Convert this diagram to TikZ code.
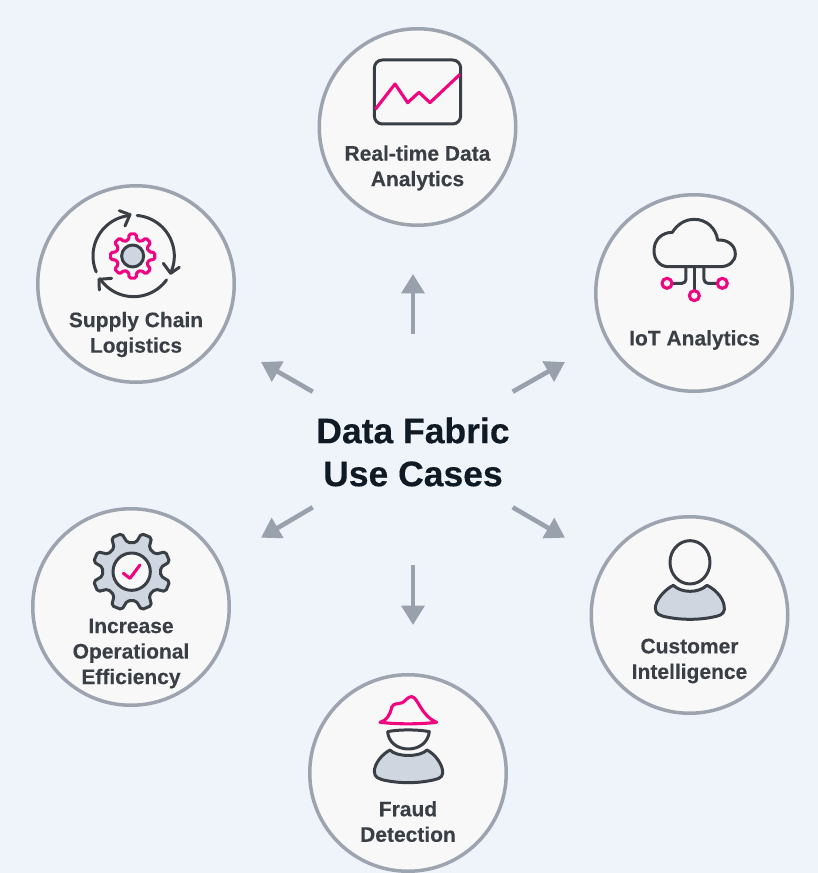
\documentclass[tikz,border=0pt]{standalone}
\usepackage{fontspec}
\setmainfont{Liberation Sans}[BoldFeatures={FakeBold=0.25}]
\usetikzlibrary{arrows.meta}
\definecolor{pagebg}{HTML}{EFF3FA}
\definecolor{discfill}{HTML}{F8F8F9}
\definecolor{discline}{HTML}{9DA3AF}
\definecolor{arrowgray}{HTML}{99A1AD}
\definecolor{labelink}{HTML}{3A3F45}
\definecolor{titleink}{HTML}{0F1A24}
\definecolor{iconpink}{HTML}{F0047F}
\definecolor{icongray}{HTML}{D0D6E0}
\newcommand{\gearpath}[7]{%
  ({#1+#4*cos(#5-#7)},{#2+#4*sin(#5-#7)})
  \foreach \a in {0,45,...,315} {
    -- ({#1+#4*cos(\a+#5-#7)},{#2+#4*sin(\a+#5-#7)})
    -- ({#1+#3*cos(\a+#5-#6)},{#2+#3*sin(\a+#5-#6)})
    -- ({#1+#3*cos(\a+#5+#6)},{#2+#3*sin(\a+#5+#6)})
    -- ({#1+#4*cos(\a+#5+#7)},{#2+#4*sin(\a+#5+#7)})
  } -- cycle}
\tikzset{
  disc/.style={circle,draw=discline,fill=discfill,line width=3.5pt,minimum size=196.5pt,inner sep=0pt},
  caselabel/.style={align=center,text=labelink,font=\fontsize{21}{25.5}\selectfont\bfseries},
  titlelabel/.style={align=center,text=titleink,font=\fontsize{35.5}{43}\selectfont\bfseries},
  usearrow/.style={draw=arrowgray,line width=4.6pt,-{Triangle[length=19.3pt,width=22.5pt,fill=arrowgray]}},
  iconat/.style={shift={#1},scale=0.3333},
  darkline/.style={draw=labelink,line width=3pt,line cap=round,line join=round},
  pinkline/.style={draw=iconpink,line width=3.1pt,line cap=round,line join=round}
}
\begin{document}
\begin{tikzpicture}[x=1pt,y=-1pt]
  \useasboundingbox (0,0) rectangle (818,873);
  \fill[pagebg] (0,0) rectangle (818,873);

  \node[disc] (realtime) at (417.5,127) {};
  \node[disc] (supply) at (136,284) {};
  \node[disc] (iot) at (694,293) {};
  \node[disc] (efficiency) at (131,607) {};
  \node[disc] (customer) at (689.5,615) {};
  \node[disc] (fraud) at (408,773) {};

  \node[caselabel] (realtimetext) at (417.5,168) {Real-time Data\\Analytics};
  \node[caselabel] (supplytext) at (136,334.5) {Supply Chain\\Logistics};
  \node[caselabel] (iottext) at (694.5,340) {IoT Analytics};
  \node[caselabel] (efficiencytext) at (131,653.5) {Increase\\Operational\\Efficiency};
  \node[caselabel] (customertext) at (689.5,661) {Customer\\Intelligence};
  \node[caselabel] (fraudtext) at (408,821.5) {Fraud\\Detection};
  \node[titlelabel] (title) at (413,452) {Data Fabric\\Use Cases};

  \coordinate (uptail) at (413,334);
  \coordinate (uptip) at (413,274);
  \coordinate (ultail) at (312.7,391.7);
  \coordinate (ultip) at (261,362);
  \coordinate (urtail) at (512.7,391.7);
  \coordinate (urtip) at (565,362);
  \coordinate (lltail) at (312.7,507.3);
  \coordinate (lltip) at (261,537.7);
  \coordinate (lrtail) at (512.7,507.3);
  \coordinate (lrtip) at (565,537.7);
  \coordinate (downtail) at (413,565.3);
  \coordinate (downtip) at (413,625);
  \foreach \from/\to in {uptail/uptip,ultail/ultip,urtail/urtip,lltail/lltip,lrtail/lrtip,downtail/downtip}
    \draw[usearrow] (\from) -- (\to);

  \begin{scope}[iconat={(310,20)}]
    \draw[darkline,rounded corners=8pt] (193,120) rectangle (452,312);
    \draw[pinkline,line cap=butt] (196,268) -- (255,192) -- (293,248) -- (327,217) -- (360,248) -- (450,163);
  \end{scope}

  \begin{scope}[iconat={(30,180)}]
    \draw[darkline] plot[domain=157:264,samples=30] ({311+122*cos(\x)},{228+122*sin(\x)});
    \draw[darkline] plot[domain=-85:25,samples=30] ({311+122*cos(\x)},{228+122*sin(\x)});
    \draw[darkline] plot[domain=36:146,samples=30] ({311+122*cos(\x)},{228+122*sin(\x)});
    \draw[darkline] (268,92) -- (300,104) -- (285,138);
    \draw[darkline] (400,250) -- (422,280) -- (448,262);
    \draw[darkline] (245,295) -- (207,298) -- (208,330);
    \draw[pinkline,rounded corners=1.5pt] \gearpath{308}{228}{67}{50}{0}{9}{14};
    \draw[darkline,fill=icongray] (308,228) circle[radius=33];
  \end{scope}

  \begin{scope}[iconat={(590,190)}]
    \draw[darkline] (235,230) .. controls (208,230) and (192,208) .. (192,182) .. controls (192,150) and (215,127) .. (247,127) .. controls (262,103) and (285,88) .. (313,88) .. controls (350,88) and (378,115) .. (383,150) .. controls (412,148) and (436,165) .. (436,192) .. controls (436,215) and (415,230) .. (392,230) -- cycle;
    \draw[darkline] (313,230) -- (313,300);
    \draw[darkline,rounded corners=4pt] (288,230) -- (288,280) -- (248,280);
    \draw[darkline,rounded corners=4pt] (342,230) -- (342,280) -- (380,280);
    \draw[pinkline] (231,280) circle[radius=15];
    \draw[pinkline] (397,280) circle[radius=15];
    \draw[pinkline] (313,317) circle[radius=15];
  \end{scope}

  \begin{scope}[iconat={(25,505)}]
    \draw[darkline,fill=icongray,rounded corners=2pt] \gearpath{320}{200}{118}{88}{22.5}{8}{14};
    \draw[darkline,fill=discfill] (320,200) circle[radius=56];
    \draw[pinkline] (295,205) -- (315,220) -- (345,180);
  \end{scope}

  \begin{scope}[iconat={(585,510)}]
    \draw[darkline] (315,157) ellipse[x radius=60,y radius=65];
    \draw[darkline,fill=icongray] (265,226) .. controls (290,250) and (340,250) .. (366,226) .. controls (395,240) and (420,270) .. (418,298) .. controls (417,315) and (400,318) .. (380,322) .. controls (340,330) and (290,330) .. (250,322) .. controls (225,318) and (211,312) .. (211,295) .. controls (211,270) and (240,238) .. (265,226) -- cycle;
  \end{scope}

  \begin{scope}[iconat={(305,670)}]
    \draw[pinkline,fill=discfill] (225,157) .. controls (245,152) and (255,135) .. (260,112) .. controls (265,98) and (280,103) .. (292,98) .. controls (303,92) and (308,80) .. (320,80) .. controls (340,82) and (345,135) .. (395,157) .. controls (340,163) and (280,163) .. (225,157) -- cycle;
    \draw[darkline] (248,185) .. controls (280,178) and (340,178) .. (373,185) .. controls (370,215) and (345,237) .. (310,237) .. controls (275,237) and (250,215) .. (248,185) -- cycle;
    \draw[darkline,fill=icongray] (255,240) .. controls (275,262) and (345,262) .. (366,240) .. controls (390,252) and (415,285) .. (413,310) .. controls (412,325) and (395,328) .. (375,332) .. controls (335,340) and (285,340) .. (245,332) .. controls (222,328) and (208,322) .. (208,305) .. controls (208,280) and (232,252) .. (255,240) -- cycle;
  \end{scope}
\end{tikzpicture}
\end{document}
